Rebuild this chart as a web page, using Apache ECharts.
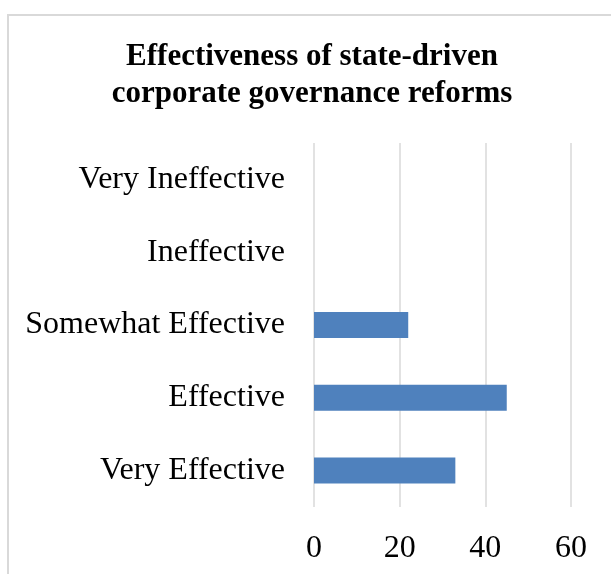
<!DOCTYPE html>
<html>
<head>
<meta charset="utf-8">
<script src="https://cdn.jsdelivr.net/npm/echarts@6/dist/echarts.min.js"></script>
<style>
  html, body { margin: 0; padding: 0; background: #ffffff; }
  #chart { width: 611px; height: 574px; }
</style>
</head>
<body>
<div id="chart"></div>
<script>
// Survey responses, listed bottom-to-top as the category axis draws them
const categories = ['Very Effective', 'Effective', 'Somewhat Effective', 'Ineffective', 'Very Ineffective'];
const responses = [33, 45, 22, 0, 0];
const axisTicks = [0, 20, 40, 60];

const serif = '"Liberation Serif", "Times New Roman", serif';

const chart = echarts.init(document.getElementById('chart'), null, { renderer: 'canvas' });
chart.setOption({
  backgroundColor: '#ffffff',
  animation: false,
  graphic: [{
    type: 'rect',
    shape: { x: 8, y: 15, width: 640, height: 620 },
    style: { fill: 'none', stroke: '#d9d9d9', lineWidth: 2 },
    silent: true
  }],
  title: {
    text: 'Effectiveness of state-driven\ncorporate governance reforms',
    left: 307, top: 33,
    textAlign: 'center',
    textStyle: {
      fontFamily: serif, fontWeight: 'bold', fontSize: 31,
      lineHeight: 37, color: '#000000'
    }
  },
  grid: { left: 314, right: 40, top: 143, bottom: 67, containLabel: false },
  xAxis: {
    type: 'value',
    min: axisTicks[0], max: axisTicks[axisTicks.length - 1], interval: axisTicks[1] - axisTicks[0],
    axisLine: { show: false },
    axisTick: { show: false },
    axisLabel: { fontFamily: serif, fontSize: 32, color: '#000000', margin: 26 },
    splitLine: { show: true, lineStyle: { color: '#d9d9d9', width: 1.5 } }
  },
  yAxis: {
    type: 'category',
    data: categories,
    axisLine: { show: false },
    axisTick: { show: false },
    axisLabel: { fontFamily: serif, fontSize: 32, color: '#000000', margin: 29 }
  },
  series: [{
    type: 'bar',
    data: responses,
    barWidth: 26,
    itemStyle: { color: '#4f81bd' }
  }]
});
</script>
</body>
</html>
